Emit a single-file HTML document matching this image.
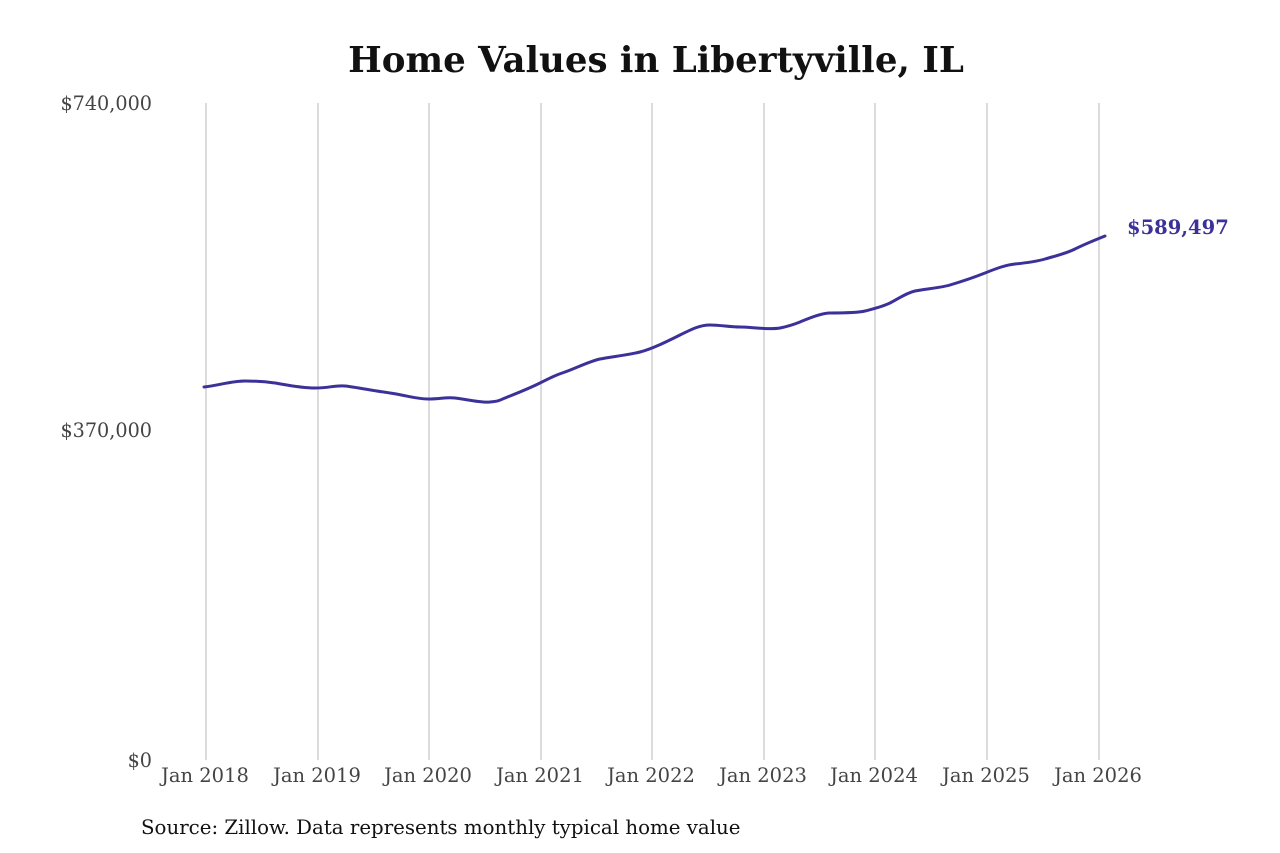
<!DOCTYPE html>
<html><head><meta charset="utf-8"><style>
body{margin:0;background:#fff;}
svg{display:block;font-family:"DejaVu Serif","Liberation Serif",serif;}
</style></head><body>
<svg width="1280" height="853" viewBox="0 0 1280 853">
<text x="656" y="72" text-anchor="middle" font-size="35.6" font-weight="bold" fill="#111">Home Values in Libertyville, IL</text>
<g stroke="#b8b8b8" stroke-width="1">
<line x1="206" y1="103" x2="206" y2="760"/><line x1="318" y1="103" x2="318" y2="760"/>
<line x1="429" y1="103" x2="429" y2="760"/><line x1="541" y1="103" x2="541" y2="760"/>
<line x1="652" y1="103" x2="652" y2="760"/><line x1="764" y1="103" x2="764" y2="760"/>
<line x1="875" y1="103" x2="875" y2="760"/><line x1="987" y1="103" x2="987" y2="760"/>
<line x1="1099" y1="103" x2="1099" y2="760"/>
</g>
<g font-size="19.2" fill="#444" text-anchor="end">
<text x="152" y="110">$740,000</text>
<text x="152" y="437">$370,000</text>
<text x="152" y="767">$0</text>
</g>
<g font-size="19.5" fill="#444" text-anchor="middle">
<text x="205" y="782">Jan 2018</text><text x="317" y="782">Jan 2019</text>
<text x="428" y="782">Jan 2020</text><text x="540" y="782">Jan 2021</text>
<text x="651" y="782">Jan 2022</text><text x="763" y="782">Jan 2023</text>
<text x="874" y="782">Jan 2024</text><text x="986" y="782">Jan 2025</text>
<text x="1098" y="782">Jan 2026</text>
</g>
<path fill="none" stroke="#3b3199" stroke-width="3" stroke-linejoin="round" stroke-linecap="round"
d="M204,387 C220,385 232,381 245,381 S268,382 275,383 S300,388 315,388 S335,385 345,386 S375,391 390,393 S415,399 428,399 S445,397 455,398 S480,403 490,402 S500,400 505,398 S528,389 540,383 S556,375 565,372 S590,361 600,359 S628,355 640,352 S668,341 680,335 S700,325 710,325 S730,327 740,327 S770,330 780,328 S795,324 800,322 S820,313 830,313 S857,313 865,311 S882,307 890,303 S906,293 915,291 S940,288 950,285 S975,277 985,273 S1005,265 1015,264 S1035,262 1045,259 S1065,254 1075,249 S1095,240 1105,236"/>
<text x="1127" y="234" font-size="19.5" font-weight="bold" fill="#3b3199">$589,497</text>
<text x="141" y="834" font-size="19.8" fill="#111">Source: Zillow. Data represents monthly typical home value</text>
</svg>
</body></html>
